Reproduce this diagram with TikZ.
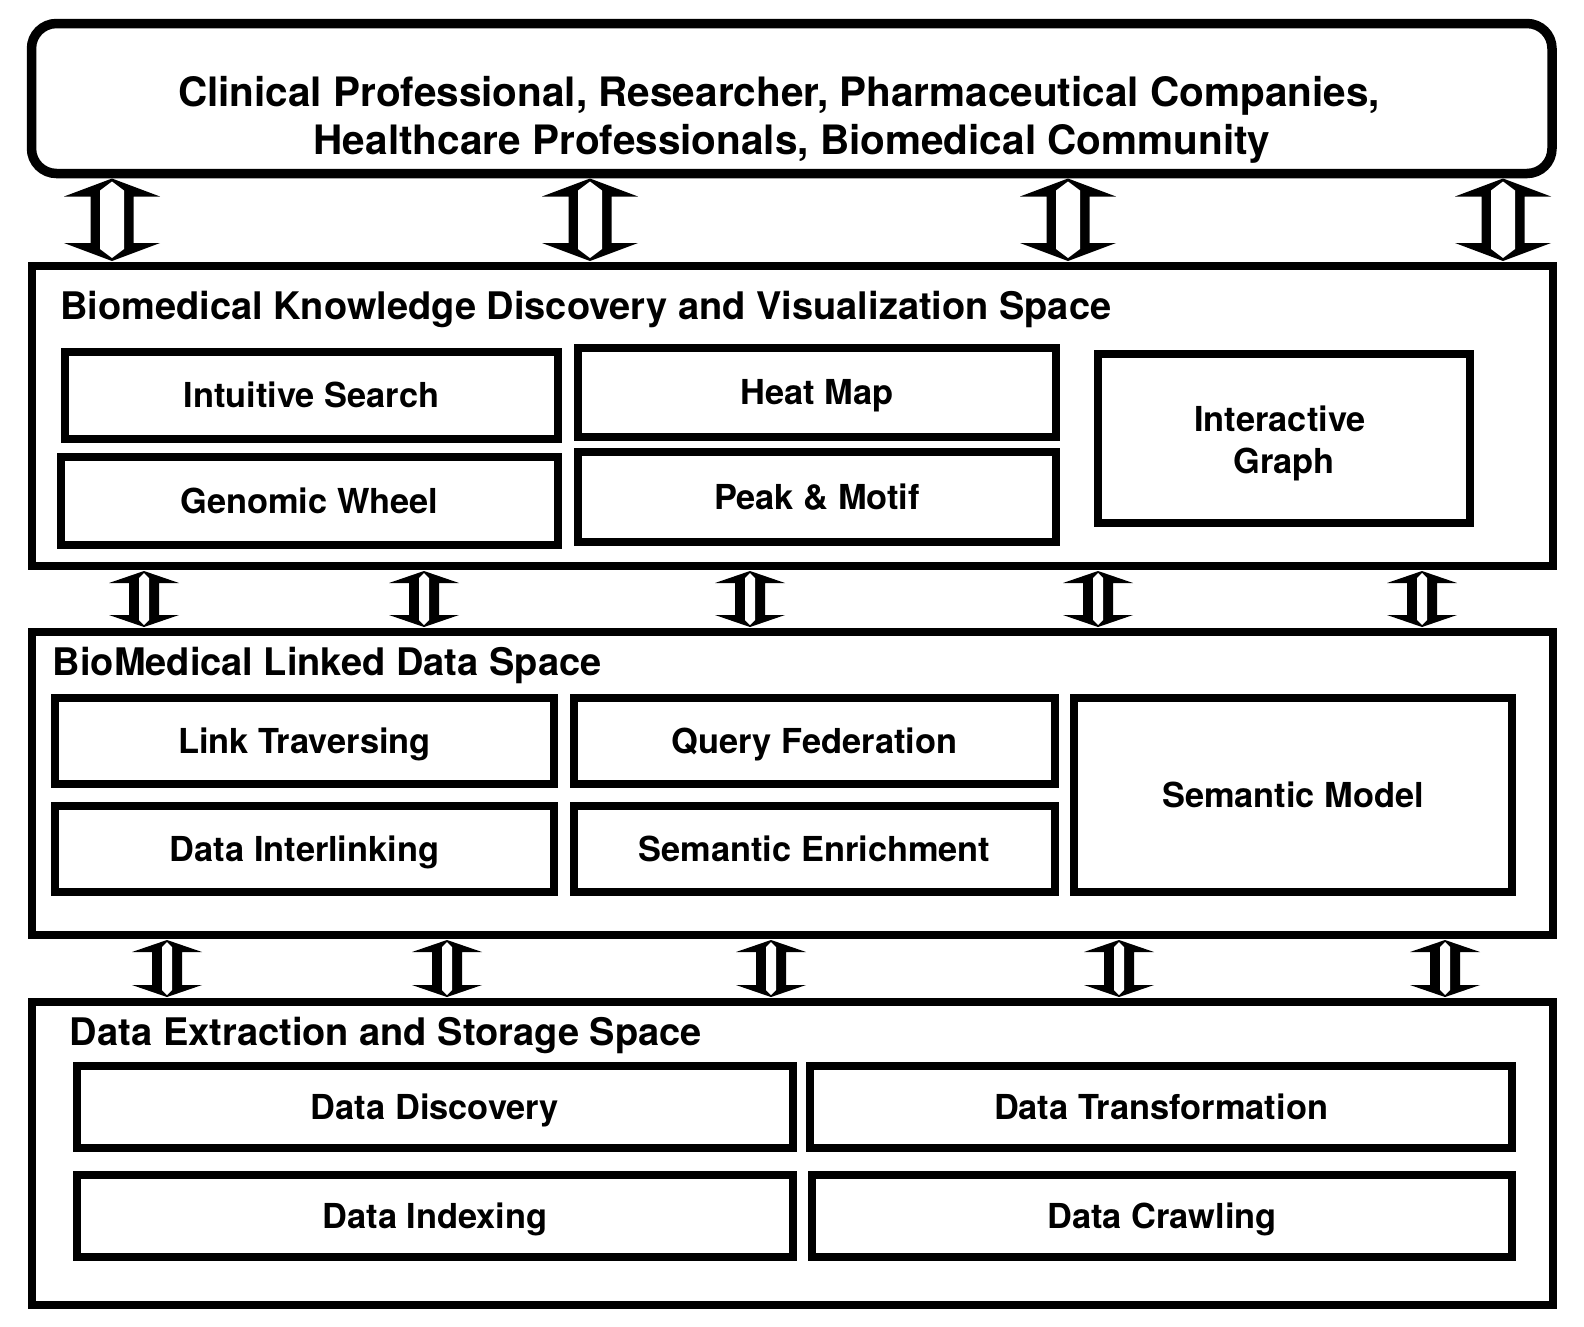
\documentclass[tikz,border=0pt]{standalone}
\usepackage{fontspec}
\setmainfont{TeX Gyre Heros}
\usetikzlibrary{calc}

% font sizes (1pt = 1px of the final picture)
\newcommand\boxfont{\fontsize{34.4pt}{41.5pt}\selectfont\bfseries}
\newcommand\headfont{\fontsize{38pt}{44pt}\selectfont\bfseries}
\newcommand\userfont{\fontsize{40.5pt}{48pt}\selectfont\bfseries}

% dimensions of the double block arrows:
% head half width, shaft half width, slit half width, tip inset,
% head length, slit tip inset, slit shoulder inset
\newcommand\arrowdims[7]{%
  \def\aW{#1}\def\aS{#2}\def\aI{#3}\def\aT{#4}\def\aH{#5}\def\aIT{#6}\def\aIS{#7}}

% double block arrow at x = #1 between the bottom of node #2 and the top of node #3
\newcommand\biarrow[3]{%
  \coordinate (ax) at (#1,0);
  \coordinate (au) at (ax |- #2.south);
  \coordinate (al) at (ax |- #3.north);
  \fill[black] ($(au)+(0,\aT)$) -- ($(au)+(-\aW,\aH)$) -- ($(au)+(-\aS,\aH)$)
    -- ($(al)+(-\aS,-\aH)$) -- ($(al)+(-\aW,-\aH)$) -- ($(al)+(0,-\aT)$)
    -- ($(al)+(\aW,-\aH)$) -- ($(al)+(\aS,-\aH)$)
    -- ($(au)+(\aS,\aH)$) -- ($(au)+(\aW,\aH)$) -- cycle;
  \fill[white] ($(au)+(0,\aIT)$) -- ($(au)+(-\aI,\aIS)$) -- ($(al)+(-\aI,-\aIS)$)
    -- ($(al)+(0,-\aIT)$) -- ($(al)+(\aI,-\aIS)$) -- ($(au)+(\aI,\aIS)$) -- cycle;
}

\tikzset{
  layer/.style={draw=black, line width=8.5pt, outer sep=0pt, inner sep=0pt},
  userbox/.style={layer, line width=9.5pt, rounded corners=25pt},
  inbox/.style={layer, font=\boxfont, text height=24.7pt, text depth=0pt},
  heading/.style={anchor=west, inner sep=0pt, font=\headfont, text height=27.3pt, text depth=0pt},
  usertext/.style={inner sep=0pt, font=\userfont, text height=29.1pt, text depth=0pt},
  boxtext/.style={inner sep=0pt, font=\boxfont, text height=24.7pt, text depth=0pt},
}

\begin{document}
\begin{tikzpicture}[x=1pt, y=-1pt]
\fill[white] (0,0) rectangle (1584,1326);
\path[use as bounding box] (0,0) rectangle (1584,1326);

% users
\node[userbox, minimum width=1520.5pt, minimum height=150pt] (top) at (791.75,98.5) {};
\node[usertext] (top1) at (779,92) {Clinical Professional, Researcher, Pharmaceutical Companies,};
\node[usertext] (top2) at (792,140) {Healthcare Professionals, Biomedical Community};

% knowledge discovery and visualization layer
\node[layer, minimum width=1521pt, minimum height=300pt] (lay1) at (792.5,416) {};
\node[heading] (h1) at (60,306) {Biomedical Knowledge Discovery and Visualization Space};
\node[inbox, minimum width=493pt, minimum height=87pt] (is) at (311.5,395.5) {Intuitive Search};
\node[inbox, minimum width=497pt, minimum height=88pt] (gw) at (309.5,501) {Genomic Wheel};
\node[inbox, minimum width=478pt, minimum height=89pt] (hm) at (817,392.5) {Heat Map};
\node[inbox, minimum width=478pt, minimum height=90pt] (pm) at (817,497) {Peak \& Motif};
\node[inbox, minimum width=372pt, minimum height=169pt] (ig) at (1284,438.5) {};
\node[boxtext] (ig1) at (1280,419.5) {Interactive};
\node[boxtext] (ig2) at (1284,461) {Graph};

% linked data layer
\node[layer, minimum width=1521pt, minimum height=303pt] (lay2) at (792.5,783.5) {};
\node[heading] (h2) at (52.6,662) {BioMedical Linked Data Space};
\node[inbox, minimum width=499pt, minimum height=86pt] (lt) at (304.5,741) {Link Traversing};
\node[inbox, minimum width=499pt, minimum height=86pt] (di) at (304.5,849) {Data Interlinking};
\node[inbox, minimum width=481pt, minimum height=86pt] (qf) at (814.5,741) {Query Federation};
\node[inbox, minimum width=481pt, minimum height=86pt] (se) at (814.5,849) {Semantic Enrichment};
\node[inbox, minimum width=438pt, minimum height=194pt] (sm) at (1293,795) {Semantic Model};

% extraction and storage layer
\node[layer, minimum width=1521pt, minimum height=303pt] (lay3) at (792.5,1153.5) {};
\node[heading] (h3) at (69.7,1032) {Data Extraction and Storage Space};
\node[inbox, minimum width=716pt, minimum height=82pt] (dd) at (435,1107) {Data Discovery};
\node[inbox, minimum width=702pt, minimum height=82pt] (dt) at (1161,1107) {Data Transformation};
\node[inbox, minimum width=716pt, minimum height=82pt] (dx) at (435,1216) {Data Indexing};
\node[inbox, minimum width=700pt, minimum height=82pt] (dc) at (1162,1216) {Data Crawling};

% arrows between users and the top layer
\arrowdims{48}{21.5}{12}{5}{23}{8}{17}
\biarrow{112}{top}{lay1}
\biarrow{590}{top}{lay1}
\biarrow{1068}{top}{lay1}
\biarrow{1503}{top}{lay1}

% arrows between the layers
\arrowdims{35}{15}{5}{5}{17}{7}{12}
\biarrow{144}{lay1}{lay2}
\biarrow{424}{lay1}{lay2}
\biarrow{750}{lay1}{lay2}
\biarrow{1098}{lay1}{lay2}
\biarrow{1422}{lay1}{lay2}
\biarrow{167}{lay2}{lay3}
\biarrow{447}{lay2}{lay3}
\biarrow{771}{lay2}{lay3}
\biarrow{1119}{lay2}{lay3}
\biarrow{1445}{lay2}{lay3}
\end{tikzpicture}
\end{document}
